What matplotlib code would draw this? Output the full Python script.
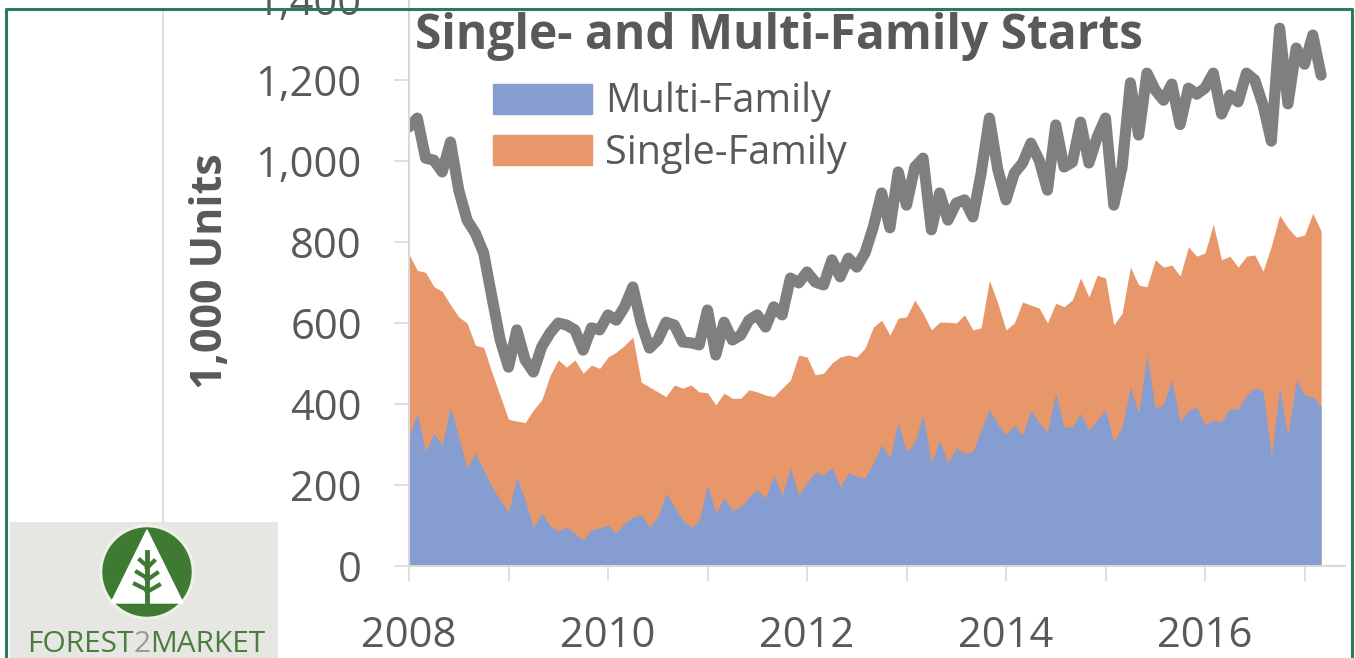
import numpy as np
import matplotlib
matplotlib.use("Agg")
import matplotlib.pyplot as plt
from matplotlib.patches import Patch, Rectangle, Circle, Polygon
from matplotlib.lines import Line2D

plt.rcParams['font.family'] = ['Open Sans', 'DejaVu Sans']

# monthly housing starts, Jan 2008 - Mar 2017 (1,000 units, SAAR)
start_year = 2008
single_family = [770, 730, 725, 690, 678, 645, 615, 600, 545, 540,
                 478, 420, 362, 358, 354, 385, 410, 470, 509, 491,
                 509, 476, 496, 488, 516, 528, 545, 565, 454, 442,
                 430, 418, 447, 439, 447, 430, 428, 398, 427, 414,
                 414, 435, 430, 422, 418, 439, 459, 521, 516, 472,
                 476, 501, 516, 521, 516, 538, 590, 607, 570, 612,
                 615, 657, 624, 583, 602, 602, 600, 620, 583, 588,
                 706, 649, 583, 600, 652, 644, 637, 600, 649, 640,
                 657, 711, 664, 718, 711, 595, 624, 738, 694, 689,
                 756, 738, 743, 716, 788, 765, 773, 844, 756, 765,
                 738, 765, 768, 728, 790, 866, 835, 812, 817, 871,
                 827]
multi_family = [319, 377, 282, 328, 299, 393, 319, 242, 279, 237,
                195, 163, 133, 220, 163, 96, 131, 100, 86, 96,
                81, 64, 89, 94, 101, 81, 106, 121, 126, 96,
                121, 180, 146, 114, 96, 112, 200, 131, 168, 138,
                146, 170, 188, 168, 225, 175, 242, 175, 205, 232,
                225, 244, 195, 230, 222, 217, 254, 299, 267, 356,
                282, 306, 373, 254, 311, 254, 291, 279, 282, 336,
                385, 350, 325, 348, 323, 385, 353, 331, 427, 343,
                343, 377, 336, 360, 385, 306, 343, 442, 377, 521,
                390, 400, 460, 356, 383, 393, 348, 360, 356, 388,
                388, 422, 440, 432, 272, 440, 321, 459, 422, 417,
                395]
total_starts = [1084, 1106, 1007, 1002, 973, 1047, 928, 854, 822, 773,
                664, 558, 491, 583, 509, 479, 541, 575, 600, 595,
                583, 533, 588, 583, 620, 607, 640, 689, 600, 538,
                558, 602, 595, 553, 551, 546, 632, 521, 602, 558,
                570, 607, 620, 590, 640, 620, 711, 699, 726, 701,
                694, 756, 714, 760, 738, 773, 837, 921, 835, 973,
                891, 985, 1007, 830, 921, 854, 896, 904, 862, 970,
                1106, 980, 904, 970, 995, 1044, 1002, 928, 1089, 985,
                997, 1096, 995, 1059, 1106, 891, 985, 1193, 1064, 1217,
                1175, 1150, 1190, 1090, 1180, 1165, 1180, 1217, 1116, 1163,
                1146, 1217, 1200, 1138, 1049, 1328, 1141, 1279, 1239, 1311,
                1212]
year_ticks = list(range(2008, 2018))
year_labels = [str(y) if y % 2 == 0 else '' for y in year_ticks]
y_ticks = list(range(0, 1401, 200))

W, H = 1355, 658
BLUE = '#859dd1'
ORANGE = '#e8976a'
GRAY = '#7f7f7f'
TEXT = '#595959'

x = start_year + np.arange(len(single_family)) / 12.0

fig = plt.figure(figsize=(W / 100, H / 100), dpi=100)
fig.patch.set_facecolor('white')

ax = fig.add_axes([409 / W, 92 / H, (1345 - 409) / W, 567 / H])
ax.fill_between(x, 0, single_family, color=ORANGE, lw=0)
ax.fill_between(x, 0, multi_family, color=BLUE, lw=0)
ax.plot(x, total_starts, color=GRAY, lw=8, solid_joinstyle='round',
        solid_capstyle='round')

ax.set_xlim(2008, 2008 + (1345 - 409) / 99.5)
ax.set_ylim(0, 1400)
ax.set_xticks(year_ticks)
ax.set_xticklabels(year_labels)
ax.set_yticks(y_ticks)
ax.set_yticklabels(['{:,}'.format(v) for v in y_ticks])
for s in ['top', 'right']:
    ax.spines[s].set_visible(False)
for s in ['left', 'bottom']:
    ax.spines[s].set_color('#d9d9d9')
    ax.spines[s].set_linewidth(1.5)
ax.tick_params(axis='y', direction='out', length=11, width=1.2,
               color='#d9d9d9', pad=23, labelsize=30, labelcolor=TEXT)
ax.tick_params(axis='x', direction='out', length=11, width=1.2,
               color='#d9d9d9', pad=24, labelsize=30, labelcolor=TEXT)

handles = [Patch(color=BLUE, label='Multi-Family'),
           Patch(color=ORANGE, label='Single-Family')]
ax.legend(handles=handles, loc='upper left',
          bbox_to_anchor=(493 / W, 1 - 82 / H), bbox_transform=fig.transFigure,
          frameon=False, fontsize=28.5, handlelength=2.5, handleheight=0.78,
          handletextpad=0.33, labelspacing=0.28, borderpad=0, borderaxespad=0,
          labelcolor=TEXT)

fig.text(415 / W, 1 - 49 / H, 'Single- and Multi-Family Starts',
         ha='left', va='baseline', fontsize=34.5, weight='bold', color=TEXT)
fig.text(211 / W, 1 - 271 / H, '1,000 Units', rotation=90, ha='center',
         va='center', fontsize=31, weight='bold', color=TEXT)

# chart area edge and outer green frame
fig.add_artist(Line2D([163 / W, 163 / W], [1 - 9 / H, 1 - 522 / H],
                      color='#d9d9d9', lw=1.2))
fig.add_artist(Line2D([6 / W, 6 / W, 1352 / W, 1352 / W],
                      [0, 1 - 9 / H, 1 - 9 / H, 0], color='#2b7a5c', lw=2.2))

# logo
lg = fig.add_axes([10 / W, 0, 268 / W, 136 / H])
lg.set_xlim(10, 278)
lg.set_ylim(658, 522)
lg.axis('off')
lg.add_patch(Rectangle((10, 522), 268, 136, color='#e6e6e3'))
lg.add_patch(Circle((147, 572), 47, color='#eef0ea'))
lg.add_patch(Circle((147, 572), 44, color='#3f7a33'))
lg.add_patch(Polygon([(147, 530), (111, 603), (183, 603)], color='white'))
tree = '#3f7a33'
lg.plot([147, 147], [603, 552], color=tree, lw=3.5)
for yb, dx in [(560, 7), (572, 10), (584, 12)]:
    lg.plot([147, 147 - dx], [yb + 6, yb], color=tree, lw=3)
    lg.plot([147, 147 + dx], [yb + 8, yb + 1], color=tree, lw=3)

# logo wordmark, pieces placed one after another
renderer = fig.canvas.get_renderer()
xpos = 27
for part, col in [('FOREST', '#4b7d3f'), ('2', '#9a9a9a'), ('MARKET', '#4b7d3f')]:
    t = lg.text(xpos, 652, part, color=col, fontsize=21.5, va='baseline')
    bb = t.get_window_extent(renderer)
    xpos += bb.width * 268 / lg.get_window_extent(renderer).width

fig.savefig('out.png', dpi=100)
